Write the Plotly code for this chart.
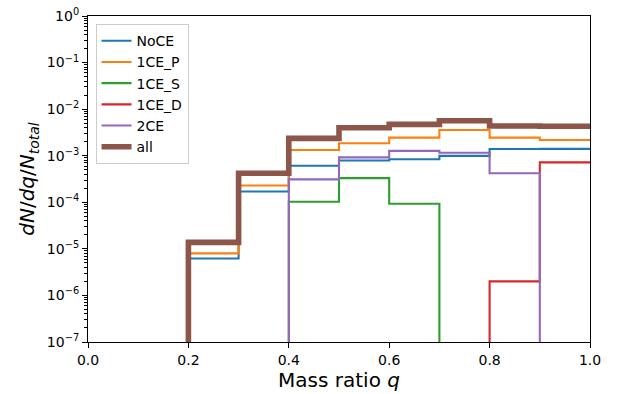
import plotly.graph_objects as go

# Bin edges of mass ratio q
edges = [0.0, 0.1, 0.2, 0.3, 0.4, 0.5, 0.6, 0.7, 0.8, 0.9, 1.0]

# dN/dq/N_total per bin (0 = empty bin)
noce   = [0, 0, 6.2e-6, 1.7e-4, 6.1e-4, 7.9e-4, 8.4e-4, 9.9e-4, 1.39e-3, 1.4e-3]
ce1_p  = [0, 0, 8.0e-6, 2.3e-4, 1.33e-3, 1.85e-3, 2.45e-3, 3.56e-3, 2.44e-3, 2.17e-3]
ce1_s  = [0, 0, 0, 0, 1.03e-4, 3.3e-4, 9.3e-5, 0, 0, 0]
ce1_d  = [0, 0, 0, 0, 0, 0, 0, 0, 2.0e-6, 7.2e-4]
ce2    = [0, 0, 0, 0, 3.1e-4, 9.2e-4, 1.27e-3, 1.16e-3, 4.2e-4, 0]
all_ce = [0, 0, 1.38e-5, 4.2e-4, 2.36e-3, 4.0e-3, 4.7e-3, 5.65e-3, 4.35e-3, 4.3e-3]

series = [
    ("NoCE", noce, "#1f77b4", 2.1),
    ("1CE_P", ce1_p, "#ff7f0e", 2.1),
    ("1CE_S", ce1_s, "#2ca02c", 2.1),
    ("1CE_D", ce1_d, "#d62728", 2.1),
    ("2CE", ce2, "#9467bd", 2.1),
    ("all", all_ce, "#8c564b", 5.6),
]

FLOOR = 1e-12  # stands in for zero on the log axis (below visible range)

fig = go.Figure()
for name, vals, color, w in series:
    ys = [v if v > 0 else FLOOR for v in vals]
    x = [edges[0]] + edges[:-1] + [edges[-1]]
    y = [FLOOR] + ys + [ys[-1]]
    fig.add_trace(go.Scatter(
        x=x, y=y, mode="lines", name=name,
        line=dict(color=color, width=w, shape="hv"),
    ))

exps = list(range(-7, 1))
fig.update_layout(
    width=619, height=394,
    margin=dict(l=88, r=29, t=16, b=52, autoexpand=False),
    paper_bgcolor="white", plot_bgcolor="white",
    font=dict(family="DejaVu Sans", size=14, color="black"),
    showlegend=True,
    legend=dict(
        x=0.015, y=0.975, xanchor="left", yanchor="top",
        bgcolor="rgba(255,255,255,0.8)", bordercolor="#cccccc", borderwidth=1,
        font=dict(size=14), itemwidth=30, tracegroupgap=0,
    ),
    xaxis=dict(
        range=[0, 1], tickvals=[0, 0.2, 0.4, 0.6, 0.8, 1.0],
        ticktext=["0.0", "0.2", "0.4", "0.6", "0.8", "1.0"],
        ticks="outside", ticklen=5, tickwidth=1.1, tickcolor="black",
        showline=True, linecolor="black", linewidth=1.1, mirror=True,
        showgrid=False, zeroline=False,
        title=dict(text="Mass ratio <i>q</i>", font=dict(size=20), standoff=4),
        tickfont=dict(size=14),
    ),
    yaxis=dict(
        type="log", range=[-7, 0],
        tickvals=[10.0 ** e for e in exps],
        ticktext=["10<sup>%s</sup>" % (str(e).replace("-", "−")) for e in exps],
        ticks="outside", ticklen=5, tickwidth=1.1, tickcolor="black",
        minor=dict(ticks="outside", ticklen=3, tickwidth=0.8, tickcolor="black",
                   dtick="D1", showgrid=False),
        showline=True, linecolor="black", linewidth=1.1, mirror=True,
        showgrid=False, zeroline=False,
        title=dict(text="<i>dN</i>/<i>dq</i>/<i>N</i><sub><i>total</i></sub>",
                   font=dict(size=20), standoff=6),
        tickfont=dict(size=14),
    ),
)

fig.write_html("out.html")
